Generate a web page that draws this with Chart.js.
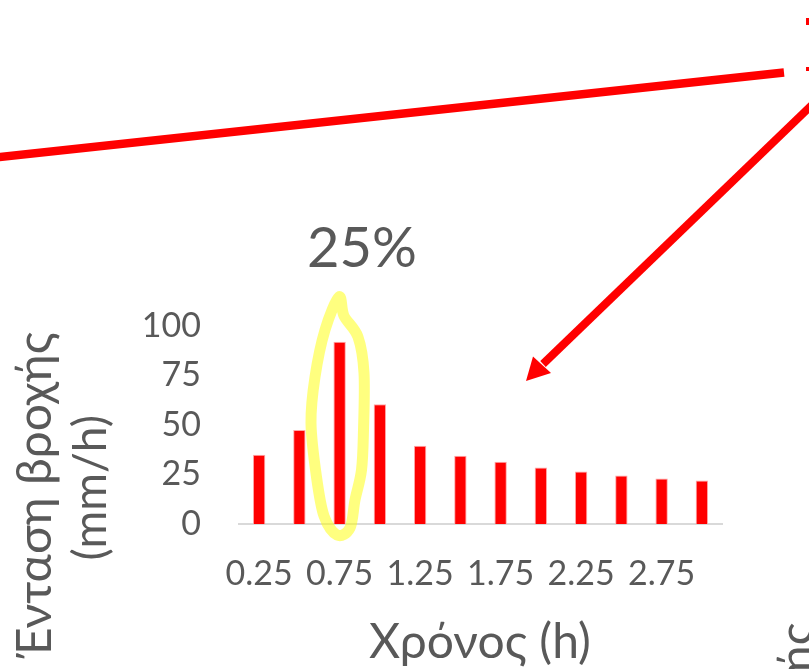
<!DOCTYPE html>
<html>
<head>
<meta charset="utf-8">
<script src="https://cdn.jsdelivr.net/npm/chart.js@4"></script>
<style>
  html, body { margin: 0; padding: 0; background: #ffffff; overflow: hidden; }
  canvas { display: block; }
</style>
</head>
<body>
<canvas id="rain" width="809" height="669"></canvas>
<script>
// Rainfall hyetograph: time step (h) and rainfall intensity (mm/h)
const timeLabels = ['0.25', '0.5', '0.75', '1', '1.25', '1.5', '1.75', '2', '2.25', '2.5', '2.75', '3'];
const rainIntensity = [35, 47.5, 92, 60.5, 39.5, 34.5, 31.5, 28.5, 26.5, 24.5, 23, 22];
const yTickValues = [0, 25, 50, 75, 100];

const xTitle = 'Χρόνος (h)';
const yTitleLines = ['Ένταση βροχής', '(mm/h)'];
const peakNote = '25%';

const TEXT_GREY = '#595959';
const FONT = 'Lato, "Open Sans", sans-serif';

// Closed smooth curve through points (Catmull-Rom converted to Bezier)
function closedSpline(ctx, pts) {
  const n = pts.length;
  ctx.beginPath();
  ctx.moveTo(pts[0][0], pts[0][1]);
  for (let i = 0; i < n; i++) {
    const p0 = pts[(i - 1 + n) % n], p1 = pts[i], p2 = pts[(i + 1) % n], p3 = pts[(i + 2) % n];
    const c1x = p1[0] + (p2[0] - p0[0]) / 6, c1y = p1[1] + (p2[1] - p0[1]) / 6;
    const c2x = p2[0] - (p3[0] - p1[0]) / 6, c2y = p2[1] - (p3[1] - p1[1]) / 6;
    ctx.bezierCurveTo(c1x, c1y, c2x, c2y, p2[0], p2[1]);
  }
  ctx.closePath();
}

function rotatedText(ctx, text, x, y, font) {
  ctx.save();
  ctx.translate(x, y);
  ctx.rotate(-Math.PI / 2);
  ctx.font = font;
  ctx.textAlign = 'right';
  ctx.textBaseline = 'alphabetic';
  ctx.fillText(text, 0, 0);
  ctx.restore();
}

const decorations = {
  id: 'decorations',
  afterDraw(chart) {
    const ctx = chart.ctx;
    ctx.save();

    // long red connector line
    ctx.strokeStyle = '#ff0000';
    ctx.lineCap = 'butt';
    ctx.lineWidth = 8.5;
    ctx.beginPath();
    ctx.moveTo(-4, 157.5);
    ctx.lineTo(784, 72.5);
    ctx.stroke();

    // small red marks at the right edge
    ctx.fillStyle = '#ff0000';
    ctx.fillRect(806, 18, 4, 7);
    ctx.fillRect(806, 67, 4, 4);

    // red arrow pointing at the chart
    ctx.lineWidth = 8;
    ctx.beginPath();
    ctx.moveTo(814, 103);
    ctx.lineTo(543, 364);
    ctx.stroke();
    ctx.beginPath();
    ctx.moveTo(526, 381);
    ctx.lineTo(533, 356.5);
    ctx.lineTo(551, 373);
    ctx.closePath();
    ctx.fill();

    // yellow freehand ring around the peak bar
    ctx.strokeStyle = 'rgba(255,255,0,0.5)';
    ctx.lineWidth = 11;
    ctx.lineJoin = 'round';
    ctx.lineCap = 'round';
    closedSpline(ctx, [
      [339, 297], [325, 330], [315, 377], [311, 423], [316.5, 477], [324, 516], [337, 535],
      [350, 528], [355, 500], [361.5, 470], [363.5, 430], [364, 373], [358, 337], [344, 316]
    ]);
    ctx.stroke();

    // texts
    ctx.fillStyle = TEXT_GREY;
    ctx.font = '56px ' + FONT;
    ctx.textAlign = 'center';
    ctx.textBaseline = 'alphabetic';
    ctx.fillText(peakNote, 362, 267);

    ctx.font = '48px ' + FONT;
    ctx.fillText(xTitle, 480, 658);

    rotatedText(ctx, yTitleLines[0], 51, 332, '48px ' + FONT);
    rotatedText(ctx, yTitleLines[1], 106, 415, '46px ' + FONT);

    // title of the neighbouring chart, cut by the right edge
    rotatedText(ctx, yTitleLines[0], 813, 623, '48px ' + FONT);

    ctx.restore();
  }
};

new Chart(document.getElementById('rain'), {
  type: 'bar',
  data: {
    labels: timeLabels,
    datasets: [{
      data: rainIntensity,
      backgroundColor: '#ff0000',
      borderColor: '#ffa8a8',
      borderWidth: 1,
      borderSkipped: 'bottom',
      categoryPercentage: 1,
      barPercentage: 0.308
    }]
  },
  options: {
    responsive: false,
    animation: false,
    devicePixelRatio: 1,
    layout: { padding: { left: 0, right: 87, top: 326, bottom: 0 } },
    plugins: { legend: { display: false }, tooltip: { enabled: false } },
    scales: {
      x: {
        grid: { display: false, drawTicks: false },
        border: { display: true, color: '#d9d9d9', width: 2 },
        ticks: {
          color: TEXT_GREY,
          font: { family: FONT, size: 34 },
          padding: 30,
          autoSkip: false,
          maxRotation: 0,
          minRotation: 0,
          callback: (v, i) => (i % 2 === 0 ? timeLabels[i] : '')
        },
        afterFit: (s) => { s.height = 145; }
      },
      y: {
        min: 0,
        max: 100,
        grid: { display: false, drawTicks: false },
        border: { display: false },
        afterBuildTicks: (s) => { s.ticks = yTickValues.map(v => ({ value: v })); },
        ticks: {
          color: TEXT_GREY,
          font: { family: FONT, size: 34 },
          padding: 38
        },
        afterFit: (s) => { s.width = 239; }
      }
    }
  },
  plugins: [decorations]
});
</script>
</body>
</html>
